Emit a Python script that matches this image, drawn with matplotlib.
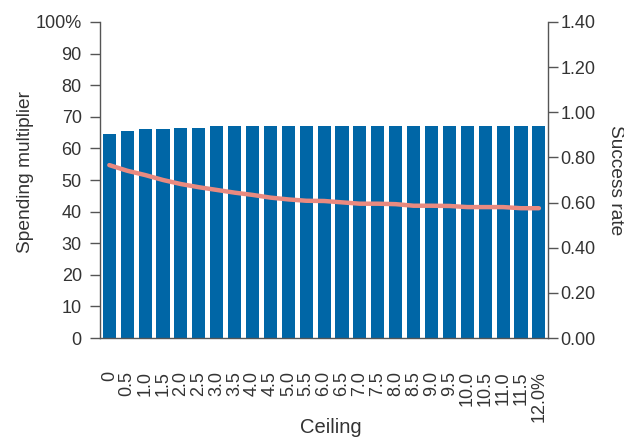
import matplotlib
matplotlib.use("Agg")
import matplotlib.pyplot as plt
import numpy as np

plt.rcParams['font.family'] = ['Liberation Sans', 'DejaVu Sans']

ceilings = ["0", "0.5", "1.0", "1.5", "2.0", "2.5", "3.0", "3.5", "4.0", "4.5",
            "5.0", "5.5", "6.0", "6.5", "7.0", "7.5", "8.0", "8.5", "9.0", "9.5",
            "10.0", "10.5", "11.0", "11.5", "12.0%"]
spending_multiplier = [64.6, 65.5, 66.1, 66.1, 66.5, 66.5, 67.2, 67.2, 67.2, 67.2,
                       67.2, 67.2, 67.2, 67.2, 67.2, 67.2, 67.2, 67.2, 67.2, 67.2,
                       67.2, 67.2, 67.2, 67.2, 67.2]
success_rate = [0.766, 0.741, 0.722, 0.700, 0.682, 0.668, 0.656, 0.644, 0.634, 0.622,
                0.614, 0.608, 0.607, 0.601, 0.595, 0.595, 0.593, 0.586, 0.586, 0.585,
                0.580, 0.580, 0.580, 0.575, 0.575]

left_ticks = [0, 10, 20, 30, 40, 50, 60, 70, 80, 90, 100]
left_labels = ["0", "10", "20", "30", "40", "50", "60", "70", "80", "90", "100%"]
right_ticks = [0.0, 0.2, 0.4, 0.6, 0.8, 1.0, 1.2, 1.4]

bar_color = "#0066A6"
line_color = "#E98A80"
spine_color = "#555555"
text_color = "#333333"

fig = plt.figure(figsize=(6.24, 4.37), dpi=100)
ax = fig.add_axes([0.160, 0.2265, 0.718, 0.7232])
x = np.arange(len(ceilings))
ax.bar(x, spending_multiplier, width=0.73, color=bar_color, zorder=2)
ax.set_xlim(-0.53, len(ceilings) - 0.5)
ax.set_ylim(0, 100)
ax.set_yticks(left_ticks)
ax.set_yticklabels(left_labels)
ax.set_xticks(x)
ax.set_xticklabels(ceilings, rotation=90)
ax.tick_params(axis='x', length=0, pad=24, labelsize=13, colors=text_color)
ax.tick_params(axis='y', length=7, width=1, color=spine_color, labelsize=13,
               labelcolor=text_color, pad=6)
ax.set_xlabel("Ceiling", fontsize=14.5, color=text_color, va='center')
ax.xaxis.set_label_coords(0.516, -0.282)
ax.set_ylabel("Spending multiplier", fontsize=13.8, color=text_color, va='center')
ax.yaxis.set_label_coords(-0.165, 0.525)
for s in ['top', 'right']:
    ax.spines[s].set_visible(False)
for s in ['left', 'bottom']:
    ax.spines[s].set_color(spine_color)
    ax.spines[s].set_linewidth(1)

ax2 = ax.twinx()
ax2.plot(x, success_rate, color=line_color, linewidth=3.2, solid_capstyle='round', zorder=3)
ax2.set_ylim(0, 1.4)
ax2.set_yticks(right_ticks)
ax2.set_yticklabels([f"{v:.2f}" for v in right_ticks])
ax2.tick_params(axis='y', length=7, width=1, color=spine_color, labelsize=13,
                labelcolor=text_color, pad=2)
ax2.set_ylabel("Success rate", fontsize=13.8, color=text_color, rotation=270, va='center')
ax2.yaxis.set_label_coords(1.15, 0.5)
for s in ['top', 'left', 'bottom']:
    ax2.spines[s].set_visible(False)
ax2.spines['right'].set_color(spine_color)
ax2.spines['right'].set_linewidth(1)

fig.savefig("out.png", dpi=100)
